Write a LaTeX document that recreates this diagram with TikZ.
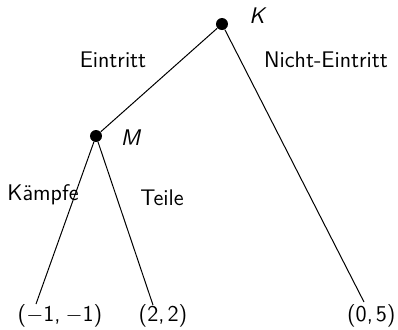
\documentclass[tikz,border=0pt]{standalone}
\usepackage{tikz}
\begin{document}
\begin{tikzpicture}[x=0.5pt,y=-0.5pt,
  dot/.style={circle,fill=black,inner sep=0pt,minimum size=6pt},
  lbl/.style={font=\fontsize{11.3}{13}\selectfont\sffamily},
  edge/.style={draw=black,line width=0.5pt}]
\useasboundingbox (0,0) rectangle (398,329);
\node[dot] (K) at (222,24) {};
\node[dot] (M) at (96,136) {};
\coordinate (L1) at (36,304);
\coordinate (L2) at (153,305);
\coordinate (L3) at (364,302);
\draw[edge] (K) -- (M);
\draw[edge] (K) -- (L3);
\draw[edge] (M) -- (L1);
\draw[edge] (M) -- (L2);
\node[lbl] (kl) at (258,16) {\textit{K}};
\node[lbl] (ml) at (131,138) {\textit{M}};
\node[lbl] (e) at (113,60) {Eintritt};
\node[lbl] (ne) at (326,60) {Nicht-Eintritt};
\node[lbl] (ka) at (43,195) {Kämpfe};
\node[lbl] (te) at (162,198) {Teile};
\node[lbl] (p1) at (60,316) {($-$1,\kern2.5pt$-$1)};
\node[lbl] (p2) at (163,316) {(2,\kern1.5pt2)};
\node[lbl,anchor=east,inner xsep=1pt] (p3) at (398,316) {(0,\kern1.5pt5)};
\end{tikzpicture}
\end{document}
